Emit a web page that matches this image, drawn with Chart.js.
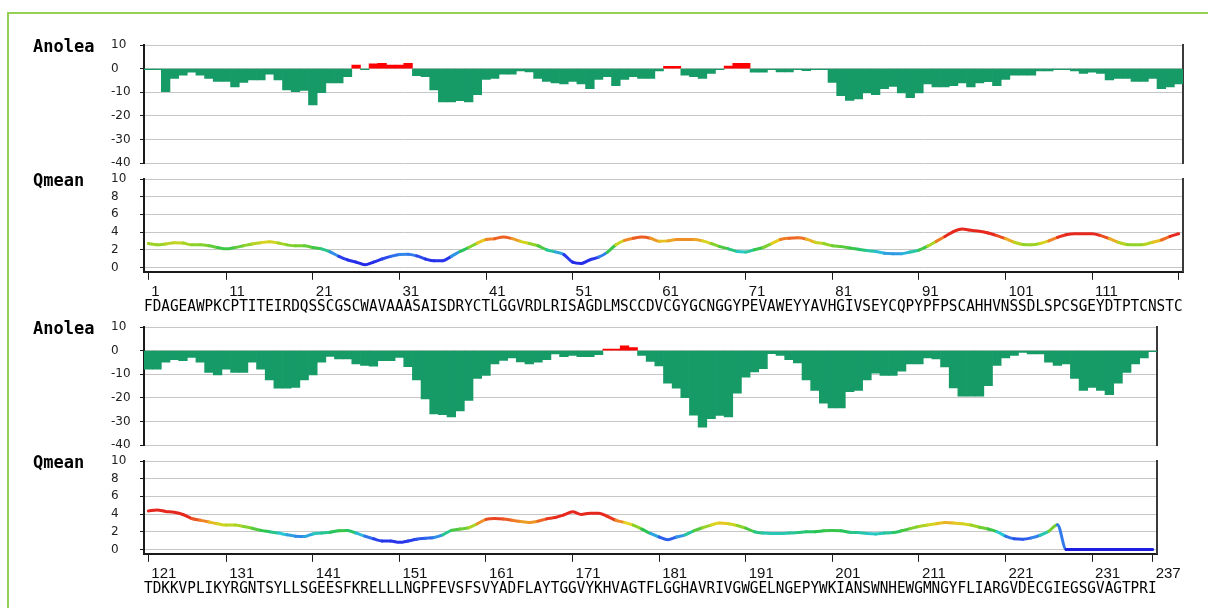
<!DOCTYPE html>
<html>
<head>
<meta charset="utf-8">
<script src="https://cdn.jsdelivr.net/npm/chart.js@4.4.1/dist/chart.umd.min.js"></script>
<style>
  html, body { margin: 0; padding: 0; background: #fff; }
  body { width: 1208px; height: 608px; position: relative; overflow: hidden; }
  canvas { position: absolute; left: 0; }
  .frame { position: absolute; left: 7px; top: 12px; width: 1200px; height: 600px;
           border-left: 2px solid #93d255; border-top: 2px solid #93d255; }
  .name { position: absolute; left: 33px; font: bold 17px "DejaVu Sans Mono", monospace; color: #000; line-height: 17px; }
  .seq { position: absolute; left: 144px; font: 14.38px "DejaVu Sans Mono", monospace; color: #000;
         white-space: pre; line-height: 14px; transform: scaleY(1.12); transform-origin: 0 100%; }
</style>
</head>
<body>
<div class="frame"></div>
<script>
// Protein sequence, split over two rows
const SEQ_TOP = "FDAGEAWPKCPTITEIRDQSSCGSCWAVAAASAISDRYCTLGGVRDLRISAGDLMSCCDVCGYGCNGGYPEVAWEYYAVHGIVSEYCQPYPFPSCAHHVNSSDLSPCSGEYDTPTCNSTC";
const SEQ_BOTTOM = "TDKKVPLIKYRGNTSYLLSGEESFKRELLLNGPFEVSFSVYADFLAYTGGVYKHVAGTFLGGHAVRIVGWGELNGEPYWKIANSWNHEWGMNGYFLIARGVDECGIEGSGVAGTPRI";

// Anolea energy per residue (residues 1-120, then 121-237)
const ANOLEA_TOP = [
  -0.4, -0.4, -9.7, -4.1, -2.7, -1.5, -2.8, -4.1, -5.4, -5.4,
  -7.7, -5.8, -4.8, -4.8, -2.3, -4.8, -9.0, -9.7, -9.2, -15.3,
  -10.1, -6.0, -6.0, -3.4, 1.5, -0.4, 2.0, 2.2, 1.5, 1.5,
  2.2, -3.0, -3.4, -9.0, -14.1, -14.1, -13.5, -14.1, -11.0, -4.6,
  -4.1, -2.3, -2.3, -1.0, -1.4, -4.1, -5.4, -6.0, -6.5, -5.4,
  -6.5, -8.5, -4.6, -3.4, -7.2, -4.6, -3.4, -4.1, -4.1, -1.0,
  1.0, 1.0, -2.7, -3.4, -4.1, -2.0, -0.4, 1.1, 2.2, 2.2,
  -1.5, -1.5, -0.4, -1.4, -1.4, -0.4, -0.8, -0.4, -0.4, -5.8,
  -11.4, -13.4, -12.8, -10.3, -11.0, -8.5, -7.5, -10.3, -12.3, -10.3,
  -6.5, -7.7, -7.7, -7.2, -6.0, -7.7, -6.0, -5.5, -7.2, -4.6,
  -2.7, -2.7, -2.7, -1.0, -1.0, -0.4, -0.4, -1.0, -2.0, -1.5,
  -2.0, -4.8, -4.1, -4.1, -5.4, -5.4, -4.1, -8.5, -7.7, -6.5
];
const ANOLEA_BOTTOM = [
  -7.8, -7.8, -4.9, -3.8, -4.2, -2.9, -4.9, -9.2, -10.3, -7.8,
  -9.2, -9.2, -4.9, -7.8, -12.4, -15.9, -15.9, -15.5, -12.4, -10.3,
  -4.9, -2.4, -3.5, -3.5, -5.6, -6.2, -6.6, -4.2, -4.2, -2.9,
  -6.8, -12.4, -20.4, -26.7, -27.1, -28.0, -25.5, -21.0, -11.7, -10.5,
  -5.6, -4.1, -3.1, -4.8, -5.6, -4.9, -3.8, -1.4, -2.5, -2.0,
  -2.5, -2.5, -1.7, 0.7, 0.7, 2.0, 1.3, -2.0, -4.5, -6.4,
  -13.7, -15.9, -19.9, -27.3, -32.3, -28.7, -27.4, -28.0, -18.0, -11.2,
  -9.0, -7.6, -1.3, -2.0, -3.8, -5.2, -12.4, -16.8, -22.2, -24.2,
  -24.2, -17.3, -16.8, -12.4, -9.5, -10.5, -10.5, -8.7, -5.6, -5.6,
  -3.1, -3.5, -6.9, -15.8, -19.2, -19.2, -19.2, -14.8, -6.2, -3.1,
  -2.0, -0.7, -1.4, -1.4, -4.9, -6.2, -5.6, -11.7, -16.8, -15.5,
  -16.8, -18.6, -13.7, -9.2, -5.6, -3.1, -0.4
];

// QMEAN local score per residue
const QMEAN_TOP = [
  2.7, 2.55, 2.65, 2.8, 2.75, 2.55, 2.55, 2.45, 2.25, 2.1,
  2.25, 2.45, 2.65, 2.8, 2.9, 2.75, 2.55, 2.45, 2.45, 2.25,
  2.1, 1.75, 1.25, 0.85, 0.6, 0.3, 0.6, 0.95, 1.25, 1.45,
  1.5, 1.3, 0.95, 0.75, 0.75, 1.25, 1.8, 2.25, 2.75, 3.15,
  3.25, 3.45, 3.25, 2.95, 2.7, 2.45, 2.0, 1.75, 1.45, 0.6,
  0.45, 0.85, 1.15, 1.7, 2.55, 3.05, 3.3, 3.45, 3.3, 2.95,
  3.0, 3.15, 3.15, 3.15, 3.0, 2.7, 2.35, 2.1, 1.8, 1.75,
  2.0, 2.25, 2.7, 3.15, 3.3, 3.35, 3.2, 2.85, 2.7, 2.45,
  2.35, 2.2, 2.05, 1.9, 1.8, 1.6, 1.55, 1.55, 1.75, 1.95,
  2.4, 2.95, 3.5, 4.05, 4.35, 4.2, 4.1, 3.9, 3.6, 3.25,
  2.85, 2.6, 2.55, 2.7, 3.0, 3.4, 3.7, 3.8, 3.8, 3.8,
  3.6, 3.25, 2.85, 2.6, 2.55, 2.6, 2.85, 3.1, 3.5, 3.8
];
const QMEAN_BOTTOM = [
  4.35, 4.45, 4.3, 4.2, 3.95, 3.5, 3.3, 3.1, 2.9, 2.75,
  2.75, 2.6, 2.4, 2.15, 2.0, 1.85, 1.65, 1.5, 1.45, 1.75,
  1.85, 1.95, 2.1, 2.15, 1.85, 1.5, 1.2, 0.95, 0.95, 0.8,
  0.95, 1.15, 1.25, 1.35, 1.65, 2.15, 2.3, 2.45, 2.9, 3.4,
  3.5, 3.45, 3.3, 3.15, 3.05, 3.2, 3.45, 3.6, 3.9, 4.25,
  3.95, 4.1, 4.1, 3.75, 3.3, 3.05, 2.75, 2.3, 1.8, 1.4,
  1.1, 1.4, 1.65, 2.1, 2.45, 2.75, 3.0, 2.9, 2.7, 2.4,
  2.0, 1.85, 1.8, 1.8, 1.85, 1.9, 2.0, 2.0, 2.1, 2.15,
  2.1, 1.95, 1.9, 1.8, 1.75, 1.85, 1.9, 2.1, 2.35, 2.6,
  2.75, 2.9, 3.05, 3.0, 2.9, 2.75, 2.5, 2.3, 2.0, 1.5,
  1.2, 1.15, 1.3, 1.6, 2.05, 2.8, 0, 0, 0, 0,
  0, 0, 0, 0, 0, 0, 0
];

// Residue axis ticks
const TICK_POS_TOP = [1, 10, 20, 30, 40, 50, 60, 70, 80, 90, 100, 110, 120];
const TICK_TEXT_TOP = ["1", "11", "21", "31", "41", "51", "61", "71", "81", "91", "101", "111", ""];
const TICK_POS_BOTTOM = [121, 130, 140, 150, 160, 170, 180, 190, 200, 210, 220, 230, 237];
const TICK_TEXT_BOTTOM = ["121", "131", "141", "151", "161", "171", "181", "191", "201", "211", "221", "231", "237"];
const ANOLEA_TICKS = [10, 0, -10, -20, -30, -40];
const QMEAN_TICKS = [0, 2, 4, 6, 8, 10];

// ---- styling ----
const GREEN = "#169a66";
const RED = "#ff0000";
const GRID = "#c6c6c6";
const AXIS = "#1a1a1a";
const W = 1208;
const AXIS_LEFT = 144;
const ROW_SHIFT = 282;

// colour ramp for the QMEAN trace (blue = poor, red = good)
const RAMP = [
  [0.0, [30, 30, 225]], [1.0, [40, 55, 235]], [1.45, [50, 130, 235]],
  [1.75, [40, 200, 210]], [2.05, [40, 195, 80]], [2.55, [140, 210, 40]],
  [2.9, [228, 212, 30]], [3.2, [240, 130, 40]], [3.6, [230, 40, 30]], [10, [230, 30, 30]]
];
function rampColor(v) {
  for (let i = 1; i < RAMP.length; i++) {
    const [b, cb] = RAMP[i];
    if (v <= b) {
      const [a, ca] = RAMP[i - 1];
      const t = Math.max(0, (v - a) / (b - a));
      const c = ca.map((x, k) => Math.round(x + (cb[k] - x) * t));
      return `rgb(${c[0]},${c[1]},${c[2]})`;
    }
  }
  return "rgb(230,30,30)";
}

function addCanvas(top, height) {
  const c = document.createElement("canvas");
  c.width = W; c.height = height;
  c.style.top = top + "px";
  document.body.appendChild(c);
  return c;
}
function addText(cls, text, top) {
  const d = document.createElement("div");
  d.className = cls;
  d.textContent = text;
  d.style.top = top + "px";
  document.body.appendChild(d);
}

const yTickFont = { family: "DejaVu Sans", size: 12 };
function leftAxis(min, max, ticks) {
  return {
    min, max,
    afterBuildTicks: s => { s.ticks = ticks.map(v => ({ value: v })); },
    afterFit: s => { s.width = 33; },
    ticks: { crossAlign: "far", padding: 0, font: yTickFont, color: "#222" },
    grid: { color: GRID, lineWidth: 1, tickColor: AXIS, tickLength: 4 },
    border: { color: AXIS, width: 2 }
  };
}
const rightEdge = {
  position: "right", display: true,
  ticks: { display: false }, grid: { display: false },
  border: { color: "#3a3a3a", width: 2 },
  afterFit: s => { s.width = 0; }
};

function anoleaPanel(areaTop, areaBottom, first, values, areaRight) {
  const top = areaTop - 40, height = Math.ceil(areaBottom - top) + 15;
  const canvas = addCanvas(top, height);
  const data = values.map((v, i) => ({ x: first + i, y: v }));
  new Chart(canvas, {
    type: "bar",
    data: { datasets: [{
      data,
      backgroundColor: c => (c.raw && c.raw.y >= 0) ? RED : GREEN,
      borderWidth: 0, barPercentage: 1, categoryPercentage: 1
    }] },
    options: {
      responsive: false, animation: false, devicePixelRatio: 1,
      layout: { padding: { left: AXIS_LEFT - 33, right: W - areaRight, top: areaTop - top, bottom: top + height - areaBottom } },
      plugins: { legend: { display: false }, tooltip: { enabled: false } },
      scales: {
        x: { type: "linear", display: false, offset: false, min: first - 0.5, max: first + values.length - 0.5 },
        y: leftAxis(-40, 10, ANOLEA_TICKS),
        y2: rightEdge
      }
    }
  });
}

function qmeanPanel(areaTop, zeroY, first, values, areaRight, tickPos, tickText) {
  const yMin = -0.5;
  const areaBottom = zeroY + (zeroY - areaTop) / 10 * (-yMin);
  const xAxisH = 30;
  const top = areaTop - 20, height = Math.ceil(areaBottom + xAxisH - top) + 4;
  const canvas = addCanvas(top, height);
  const data = values.map((v, i) => ({ x: first + i, y: v }));
  new Chart(canvas, {
    type: "line",
    data: { datasets: [{
      data,
      borderWidth: 3, pointRadius: 0, borderCapStyle: "round", borderJoinStyle: "round",
      cubicInterpolationMode: "monotone",
      borderColor: rampColor(values[0]),
      segment: { borderColor: s => rampColor((s.p0.parsed.y + s.p1.parsed.y) / 2) }
    }] },
    options: {
      responsive: false, animation: false, devicePixelRatio: 1,
      layout: { padding: { left: AXIS_LEFT - 33, right: W - areaRight, top: areaTop - top, bottom: top + height - areaBottom - xAxisH } },
      plugins: { legend: { display: false }, tooltip: { enabled: false } },
      scales: {
        x: {
          type: "linear", offset: false, min: first - 0.5, max: first + values.length - 0.5,
          afterBuildTicks: s => { s.ticks = tickPos.map(v => ({ value: v })); },
          afterFit: s => { s.height = xAxisH; },
          ticks: {
            autoSkip: false, maxRotation: 0, align: "start", labelOffset: 3, padding: 3,
            font: { family: "Liberation Sans", size: 15 }, color: "#111",
            callback: (v, i) => tickText[i]
          },
          grid: { drawOnChartArea: false, tickLength: 8, tickColor: AXIS },
          border: { color: AXIS, width: 2 }
        },
        y: leftAxis(yMin, 10, QMEAN_TICKS),
        y2: rightEdge
      }
    }
  });
}

// top row: residues 1-120
anoleaPanel(45, 163.3, 1, ANOLEA_TOP, 1183);
qmeanPanel(179.3, 267.7, 1, QMEAN_TOP, 1183, TICK_POS_TOP, TICK_TEXT_TOP);
// bottom row: residues 121-237
anoleaPanel(45 + ROW_SHIFT, 163.3 + ROW_SHIFT, 121, ANOLEA_BOTTOM, 1157);
qmeanPanel(179.3 + ROW_SHIFT, 267.7 + ROW_SHIFT, 121, QMEAN_BOTTOM, 1157, TICK_POS_BOTTOM, TICK_TEXT_BOTTOM);

addText("name", "Anolea", 38);
addText("name", "Qmean", 172);
addText("name", "Anolea", 38 + ROW_SHIFT);
addText("name", "Qmean", 172 + ROW_SHIFT);
addText("seq", SEQ_TOP, 299);
addText("seq", SEQ_BOTTOM, 299 + ROW_SHIFT);
</script>
</body>
</html>
